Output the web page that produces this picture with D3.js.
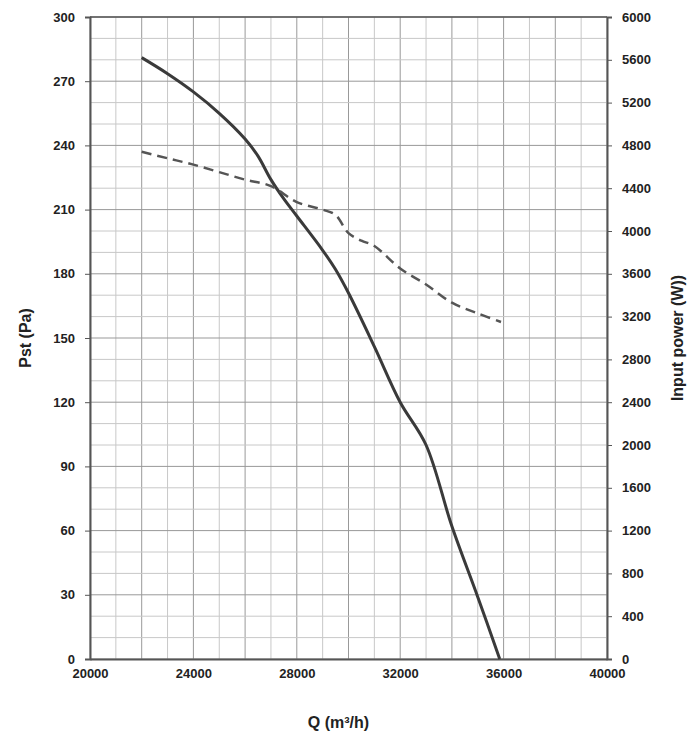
<!DOCTYPE html>
<html>
<head>
<meta charset="utf-8">
<script src="https://cdn.jsdelivr.net/npm/d3@7"></script>
<style>
  body { margin: 0; background: #fff; }
  text { font-family: "Liberation Sans", Arial, sans-serif; font-weight: bold; fill: #222; }
</style>
</head>
<body>
<svg width="700" height="738"></svg>
<script>
// pressure curve (Pa) vs flow (m3/h)
var pressQ = [22000, 23000, 24000, 25000, 26000, 26500, 27000, 27500, 28000, 29000, 29500, 30000, 31000, 32000, 33000, 34000, 35000, 35850];
var pressP = [281, 273.5, 265, 255, 243, 235, 224, 215, 207, 191, 182, 171, 146, 120, 100, 62, 29, 0];
// input power curve (W) vs flow
var powQ = [22000, 23000, 24000, 25000, 26000, 27000, 28000, 29000, 29500, 30000, 30500, 31000, 32000, 33000, 34000, 35000, 35900];
var powW = [4740, 4680, 4620, 4550, 4480, 4420, 4270, 4200, 4150, 3980, 3910, 3860, 3650, 3500, 3330, 3230, 3150];
var xTicks = [20000, 24000, 28000, 32000, 36000, 40000];
var yTicks = [0, 30, 60, 90, 120, 150, 180, 210, 240, 270, 300];
var y2Ticks = [0, 400, 800, 1200, 1600, 2000, 2400, 2800, 3200, 3600, 4000, 4400, 4800, 5200, 5600, 6000];

var svg = d3.select("svg"),
    m = {left: 90, right: 93, top: 17, bottom: 79},
    W = 700 - m.left - m.right,
    H = 738 - m.top - m.bottom;

var x = d3.scaleLinear().domain([20000, 40000]).range([0, W]);
var y = d3.scaleLinear().domain([0, 300]).range([H, 0]);
var y2 = d3.scaleLinear().domain([0, 6000]).range([H, 0]);

var g = svg.append("g").attr("transform", "translate(" + m.left + "," + m.top + ")");

// grid
d3.range(20000, 40001, 1000).forEach(function (v) {
  g.append("line").attr("x1", x(v)).attr("x2", x(v)).attr("y1", 0).attr("y2", H)
    .attr("stroke", v % 2000 === 0 ? "#999" : "#c8c8c8").attr("stroke-width", 1);
});
d3.range(0, 301, 10).forEach(function (v) {
  g.append("line").attr("x1", 0).attr("x2", W).attr("y1", y(v)).attr("y2", y(v))
    .attr("stroke", v % 30 === 0 ? "#999" : "#c8c8c8").attr("stroke-width", 1);
});

// axes
var xa = g.append("g").attr("transform", "translate(0," + H + ")")
  .call(d3.axisBottom(x).tickValues(xTicks).tickSize(0).tickPadding(10).tickFormat(d3.format("d")));
var ya = g.append("g").call(d3.axisLeft(y).tickValues(yTicks).tickSize(5).tickPadding(10));
var y2a = g.append("g").attr("transform", "translate(" + W + ",0)")
  .call(d3.axisRight(y2).tickValues(y2Ticks).tickSize(5).tickPadding(10).tickFormat(d3.format("d")));
[xa, ya, y2a].forEach(function (a) {
  a.selectAll("path").attr("stroke", "#555").attr("stroke-width", 2);
  a.selectAll("line").attr("stroke", "#555");
  a.selectAll("text").style("font-size", "13px").style("font-weight", "bold").attr("fill", "#222");
});
g.append("line").attr("x1", 0).attr("x2", W).attr("y1", 0).attr("y2", 0).attr("stroke", "#555").attr("stroke-width", 1.5);

// curves
var lineP = d3.line().curve(d3.curveCatmullRom.alpha(0.5)).x(function (d, i) { return x(pressQ[i]); }).y(function (d) { return y(d); });
g.append("path").attr("d", lineP(pressP)).attr("fill", "none").attr("stroke", "#3a3a3a").attr("stroke-width", 3);
var lineW = d3.line().curve(d3.curveCatmullRom.alpha(0.5)).x(function (d, i) { return x(powQ[i]); }).y(function (d) { return y2(d); });
g.append("path").attr("d", lineW(powW)).attr("fill", "none").attr("stroke", "#555").attr("stroke-width", 2.5)
  .attr("stroke-dasharray", "10,6");

// titles
svg.append("text").attr("x", m.left + W / 2 - 10).attr("y", 728).attr("text-anchor", "middle")
  .style("font-size", "16px").text("Q (m³/h)");
svg.append("text").attr("transform", "translate(31," + (m.top + H / 2) + ") rotate(-90)")
  .attr("text-anchor", "middle").style("font-size", "16px").text("Pst (Pa)");
svg.append("text").attr("transform", "translate(683," + (m.top + H / 2) + ") rotate(-90)")
  .attr("text-anchor", "middle").style("font-size", "16px").text("Input power  (W))");
</script>
</body>
</html>
